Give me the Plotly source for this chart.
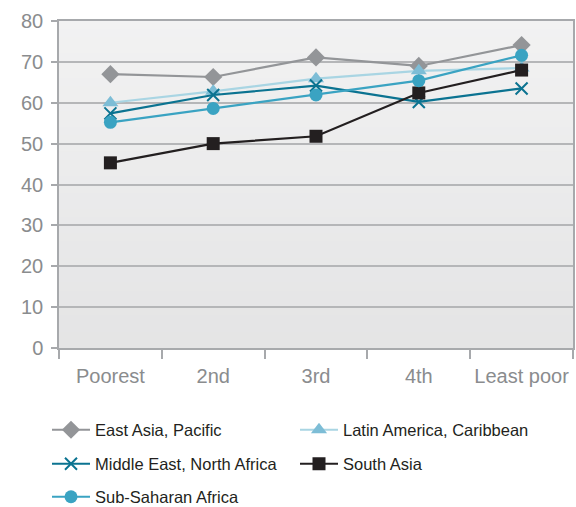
import plotly.graph_objects as go

categories = ["Poorest", "2nd", "3rd", "4th", "Least poor"]
east_asia = [67.0, 66.3, 71.1, 69.0, 74.1]
latin_america = [60.0, 62.8, 65.9, 67.8, 68.5]
middle_east = [57.4, 61.9, 64.2, 60.2, 63.5]
south_asia = [45.3, 50.0, 51.8, 62.4, 68.0]
sub_saharan = [55.2, 58.6, 61.9, 65.4, 71.6]
y_ticks = [0, 10, 20, 30, 40, 50, 60, 70, 80]

series = [
    ("East Asia, Pacific", east_asia, "#939598", "#939598", "diamond", 14, "legend"),
    ("Latin America, Caribbean", latin_america, "#a9d5e3", "#7dbdd6", "triangle-up", 14, "legend"),
    ("Middle East, North Africa", middle_east, "#0b7391", "#0b7391", "x-thin", 12, "legend2"),
    ("South Asia", south_asia, "#231f20", "#231f20", "square", 13, "legend2"),
    ("Sub-Saharan Africa", sub_saharan, "#3aa3c2", "#3aa3c2", "circle", 13, "legend3"),
]

fig = go.Figure()
for name, vals, lc, mc, sym, sz, lg in series:
    marker = dict(symbol=sym, size=sz, color=mc)
    if sym == "x-thin":
        marker["line"] = dict(color=mc, width=2)
    fig.add_trace(go.Scatter(
        x=categories, y=vals, name=name, mode="lines+markers",
        line=dict(color=lc, width=2.2), marker=marker, legend=lg,
    ))

# subtle vertical background gradient of the plot area (decoration only)
n_bands = 40
top_c, bot_c = (242, 242, 242), (228, 228, 229)
for i in range(n_bands):
    t = (i + 0.5) / n_bands
    c = tuple(round(bot_c[k] + (top_c[k] - bot_c[k]) * t) for k in range(3))
    fig.add_shape(
        type="rect", xref="paper", yref="paper",
        x0=0, x1=1, y0=i / n_bands, y1=(i + 1) / n_bands + 0.002,
        fillcolor="rgb(%d,%d,%d)" % c, line=dict(width=0), layer="below",
    )

W, H = 576, 507
leg_common = dict(
    orientation="h", xref="container", yref="container",
    x=47 / W, xanchor="left", yanchor="middle",
    entrywidthmode="pixels", entrywidth=195, itemwidth=38,
    font=dict(family="Liberation Sans, Arial", size=16.5, color="#231f20"),
    bgcolor="rgba(0,0,0,0)",
)

fig.update_layout(
    width=W, height=H,
    margin=dict(l=59, r=3, t=21, b=159, autoexpand=False),
    paper_bgcolor="white",
    plot_bgcolor="#ececec",
    font=dict(family="Liberation Sans, Arial", color="#231f20"),
    showlegend=True,
    legend=dict(leg_common, y=1 - 430 / H),
    legend2=dict(leg_common, y=1 - 464 / H),
    legend3=dict(leg_common, y=1 - 497 / H),
)
fig.update_xaxes(
    type="category", range=[-0.5, 4.5], tickson="boundaries",
    ticks="outside", ticklen=9, tickcolor="#a7a9ac", tickwidth=1.5,
    ticklabelstandoff=9, tickangle=0, automargin=False,
    showline=True, linecolor="#a7a9ac", linewidth=1.5, mirror=True,
    showgrid=False,
    tickfont=dict(family="Liberation Sans, Arial", size=20, color="#8a8c8e"),
)
fig.update_yaxes(
    range=[0, 80], tickvals=y_ticks, ticks="outside", ticklen=6,
    tickcolor="#a7a9ac", tickwidth=1.5, ticklabelstandoff=4, automargin=False,
    showline=True, linecolor="#a7a9ac", linewidth=1.5, mirror=True,
    showgrid=True, gridcolor="#b5b6b8", gridwidth=1.5, zeroline=False,
    tickfont=dict(family="Liberation Sans, Arial", size=20, color="#8a8c8e"),
)

fig.write_html(
    "out.html",
    config={"displayModeBar": False},
    post_script="document.body.style.margin='0';document.body.style.overflow='hidden';",
)
